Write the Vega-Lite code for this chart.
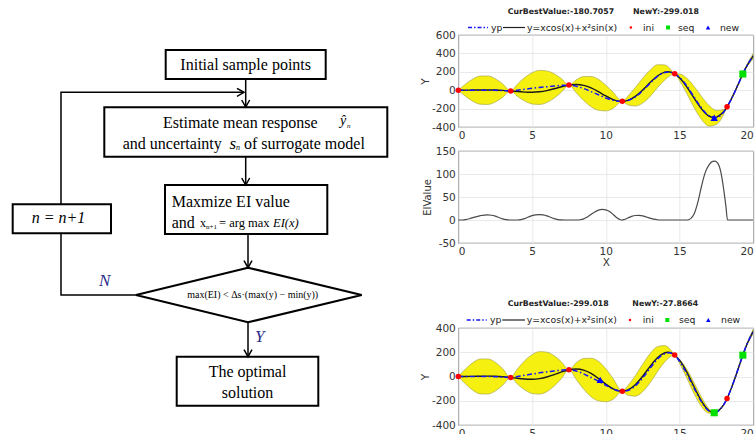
{
  "$schema": "https://vega.github.io/schema/vega-lite/v6.json",
  "padding": 0,
  "background": "white",
  "bounds": "flush",
  "spacing": 58.3,
  "config": {"view": {"stroke": null}, "font": "DejaVu Sans"},
  "datasets": {
    "truth": [
      {"x":0,"y":0},{"x":0.5,"y":0.56},{"x":1,"y":1.38},{"x":1.5,"y":2.35},{"x":2,"y":2.81},{"x":2.5,"y":1.74},{"x":3,"y":-1.7},{"x":3.5,"y":-7.58},{"x":4,"y":-14.72},{"x":4.5,"y":-20.74},{"x":5,"y":-22.55},{"x":5.5,"y":-17.4},{"x":6,"y":-4.3},{"x":6.5,"y":15.44},{"x":7,"y":37.47},{"x":7.5,"y":55.4},{"x":8,"y":62.2},{"x":8.5,"y":52.5},{"x":9,"y":25.2},{"x":9.5,"y":-16.3},{"x":10,"y":-62.8},{"x":10.5,"y":-102},{"x":11,"y":-121},{"x":11.5,"y":-110.1},{"x":12,"y":-67.1},{"x":12.5,"y":2.2},{"x":13,"y":82.9},{"x":13.5,"y":154.6},{"x":14,"y":196.1},{"x":14.5,"y":191.4},{"x":15,"y":134.9},{"x":15.5,"y":34.4},{"x":16,"y":-89},{"x":16.5,"y":-205.2},{"x":17,"y":-282.5},{"x":17.35,"y":-299},{"x":17.5,"y":-295},{"x":18,"y":-231.5},{"x":18.5,"y":-100},{"x":19,"y":72.7},{"x":19.5,"y":245.7},{"x":20,"y":373.3}
    ],
    "p1": [
      {"x":0,"yp":0,"lo":0,"hi":0},{"x":0.5,"yp":0.3,"lo":-67.7,"hi":68.3},{"x":1,"yp":0.5,"lo":-121.5,"hi":122.5},{"x":1.5,"yp":0.5,"lo":-152.5,"hi":153.5},{"x":2,"yp":0,"lo":-155,"hi":155},{"x":2.5,"yp":-1.5,"lo":-128.5,"hi":125.5},{"x":3,"yp":-4,"lo":-78,"hi":70},{"x":3.55,"yp":-8.3,"lo":-8.3,"hi":-8.3},
      {"x":4,"yp":0,"lo":-65,"hi":65},{"x":4.5,"yp":10,"lo":-117,"hi":137},{"x":5,"yp":20,"lo":-149,"hi":189},{"x":5.5,"yp":30,"lo":-155,"hi":215},{"x":6,"yp":38,"lo":-134,"hi":210},{"x":6.5,"yp":46,"lo":-86,"hi":178},{"x":7,"yp":52,"lo":-20,"hi":124},{"x":7.5,"yp":55.4,"lo":55.4,"hi":55.4},
      {"x":8,"yp":42,"lo":-29,"hi":113},{"x":8.5,"yp":18,"lo":-112,"hi":148},{"x":9,"yp":-15,"lo":-179,"hi":149},{"x":9.5,"yp":-50,"lo":-218,"hi":118},{"x":10,"yp":-85,"lo":-225,"hi":55},{"x":10.5,"yp":-110,"lo":-197,"hi":-23},{"x":11.12,"yp":-121.3,"lo":-121.3,"hi":-121.3},
      {"x":11.5,"yp":-112,"lo":-160,"hi":-64},{"x":12,"yp":-72,"lo":-172,"hi":28},{"x":12.5,"yp":-5,"lo":-140,"hi":130},{"x":13,"yp":75,"lo":-68,"hi":218},{"x":13.5,"yp":150,"lo":27,"hi":277},{"x":14,"yp":192,"lo":112,"hi":275},{"x":14.3,"yp":197,"lo":152,"hi":244},{"x":14.67,"yp":177.9,"lo":177.9,"hi":177.9},
      {"x":15,"yp":140,"lo":104,"hi":176},{"x":15.5,"yp":45,"lo":-39,"hi":129},{"x":16,"yp":-78,"lo":-194,"hi":38},{"x":16.5,"yp":-195,"lo":-320,"hi":-70},{"x":17,"yp":-278,"lo":-390,"hi":-166},{"x":17.5,"yp":-296,"lo":-372,"hi":-220},{"x":18,"yp":-236,"lo":-262,"hi":-210},{"x":18.22,"yp":-180.8,"lo":-180.8,"hi":-180.8},
      {"x":18.5,"yp":-100,"lo":-104,"hi":-96},{"x":19,"yp":72.7,"lo":67.7,"hi":77.7},{"x":19.29,"yp":176,"lo":176,"hi":176},{"x":19.5,"yp":245.7,"lo":237.7,"hi":253.7},{"x":20,"yp":372,"lo":342,"hi":402}
    ],
    "p3": [
      {"x":0,"yp":0,"lo":0,"hi":0},{"x":0.5,"yp":0.3,"lo":-62.7,"hi":63.3},{"x":1,"yp":0.5,"lo":-114.5,"hi":115.5},{"x":1.5,"yp":0.5,"lo":-143.5,"hi":144.5},{"x":2,"yp":0,"lo":-145,"hi":145},{"x":2.5,"yp":-1.5,"lo":-120.5,"hi":117.5},{"x":3,"yp":-4,"lo":-73,"hi":65},{"x":3.55,"yp":-8.3,"lo":-8.3,"hi":-8.3},
      {"x":4,"yp":0,"lo":-61,"hi":61},{"x":4.5,"yp":10,"lo":-110,"hi":130},{"x":5,"yp":20,"lo":-140,"hi":180},{"x":5.5,"yp":30,"lo":-145,"hi":205},{"x":6,"yp":38,"lo":-125,"hi":201},{"x":6.5,"yp":46,"lo":-79,"hi":171},{"x":7,"yp":52,"lo":-16,"hi":120},{"x":7.5,"yp":55.4,"lo":55.4,"hi":55.4},
      {"x":8,"yp":45,"lo":-24,"hi":114},{"x":8.5,"yp":22,"lo":-104,"hi":148},{"x":9,"yp":-8,"lo":-167,"hi":151},{"x":9.5,"yp":-38,"lo":-201,"hi":125},{"x":10,"yp":-72,"lo":-208,"hi":64},{"x":10.5,"yp":-103,"lo":-188,"hi":-18},{"x":11.12,"yp":-121.3,"lo":-121.3,"hi":-121.3},
      {"x":11.5,"yp":-115,"lo":-155,"hi":-75},{"x":12,"yp":-78,"lo":-162,"hi":6},{"x":12.5,"yp":-12,"lo":-125,"hi":101},{"x":13,"yp":68,"lo":-52,"hi":188},{"x":13.5,"yp":143,"lo":40,"hi":246},{"x":14,"yp":188,"lo":121,"hi":255},{"x":14.3,"yp":195,"lo":157,"hi":233},{"x":14.67,"yp":177.9,"lo":177.9,"hi":177.9},
      {"x":15,"yp":125,"lo":108,"hi":142},{"x":15.5,"yp":22,"lo":-15,"hi":59},{"x":16,"yp":-100,"lo":-145,"hi":-55},{"x":16.5,"yp":-212,"lo":-250,"hi":-174},{"x":17,"yp":-285,"lo":-303,"hi":-267},{"x":17.35,"yp":-299,"lo":-299,"hi":-299},
      {"x":17.5,"yp":-295,"lo":-297,"hi":-293},{"x":18,"yp":-231.5,"lo":-233.5,"hi":-229.5},{"x":18.22,"yp":-180.8,"lo":-180.8,"hi":-180.8},
      {"x":18.5,"yp":-100,"lo":-103,"hi":-97},{"x":19,"yp":72.7,"lo":69.7,"hi":75.7},{"x":19.29,"yp":176,"lo":176,"hi":176},{"x":19.5,"yp":245.7,"lo":240.7,"hi":250.7},{"x":20,"yp":372,"lo":352,"hi":392}
    ],
    "s1": [
      {"x":0,"y":0,"k":"ini"},{"x":3.55,"y":-8.3,"k":"ini"},{"x":7.5,"y":55.4,"k":"ini"},{"x":11.12,"y":-121.3,"k":"ini"},{"x":14.67,"y":177.9,"k":"ini"},{"x":18.22,"y":-180.8,"k":"ini"},
      {"x":19.29,"y":176,"k":"seq"},{"x":17.35,"y":-299,"k":"new"}
    ],
    "s3": [
      {"x":0,"y":0,"k":"ini"},{"x":3.55,"y":-8.3,"k":"ini"},{"x":7.5,"y":55.4,"k":"ini"},{"x":11.12,"y":-121.3,"k":"ini"},{"x":14.67,"y":177.9,"k":"ini"},{"x":18.22,"y":-180.8,"k":"ini"},
      {"x":19.29,"y":176,"k":"seq"},{"x":17.35,"y":-299,"k":"seq"},{"x":9.62,"y":-27.9,"k":"new"}
    ],
    "ei": [
      {"x":0,"ei":0},{"x":0.3,"ei":0},{"x":0.5,"ei":1},{"x":0.75,"ei":2.8},{"x":1,"ei":5},{"x":1.25,"ei":7.5},{"x":1.5,"ei":9.5},{"x":1.75,"ei":10.8},{"x":2,"ei":11},{"x":2.25,"ei":10.3},{"x":2.5,"ei":8.5},{"x":2.75,"ei":5.5},{"x":3,"ei":2.5},{"x":3.25,"ei":0.7},{"x":3.5,"ei":0},
      {"x":4,"ei":0},{"x":4.25,"ei":0.8},{"x":4.5,"ei":3},{"x":4.75,"ei":6.5},{"x":5,"ei":9.5},{"x":5.25,"ei":11.3},{"x":5.5,"ei":11.8},{"x":5.75,"ei":11},{"x":6,"ei":9},{"x":6.25,"ei":6},{"x":6.5,"ei":3},{"x":6.75,"ei":1},{"x":7,"ei":0.2},{"x":7.25,"ei":0},
      {"x":8.1,"ei":0},{"x":8.25,"ei":0.5},{"x":8.5,"ei":2.5},{"x":8.75,"ei":6.5},{"x":9,"ei":12},{"x":9.25,"ei":17.5},{"x":9.5,"ei":21.5},{"x":9.75,"ei":23},{"x":10,"ei":22},{"x":10.25,"ei":18.5},{"x":10.5,"ei":12},{"x":10.75,"ei":5},{"x":11,"ei":0.5},{"x":11.1,"ei":0},
      {"x":11.25,"ei":1},{"x":11.5,"ei":4.5},{"x":11.75,"ei":8},{"x":12,"ei":9.8},{"x":12.25,"ei":10},{"x":12.5,"ei":9},{"x":12.75,"ei":6.5},{"x":13,"ei":4},{"x":13.25,"ei":1.8},{"x":13.5,"ei":0.5},{"x":13.75,"ei":0},
      {"x":15.5,"ei":0},{"x":15.75,"ei":3},{"x":16,"ei":14},{"x":16.25,"ei":40},{"x":16.5,"ei":75},{"x":16.75,"ei":104},{"x":17,"ei":120},{"x":17.25,"ei":127.5},{"x":17.4,"ei":128},{"x":17.6,"ei":123},{"x":17.8,"ei":104},{"x":18,"ei":65},{"x":18.15,"ei":28},{"x":18.25,"ei":0},{"x":20,"ei":0}
    ],
    "rects": [
      {"x":165.7,"x2":325.7,"y":50,"y2":79},
      {"x":104.3,"x2":387.3,"y":107.3,"y2":156.7},
      {"x":165,"x2":327.3,"y":185,"y2":234},
      {"x":12.7,"x2":111,"y":204.3,"y2":233.3},
      {"x":176.7,"x2":318.3,"y":356.7,"y2":405.7}
    ],
    "lines": [
      {"id":"L1","o":1,"x":245.7,"y":79},{"id":"L1","o":2,"x":245.7,"y":107},
      {"id":"A1","o":1,"x":241.7,"y":100},{"id":"A1","o":2,"x":245.7,"y":107},{"id":"A1","o":3,"x":249.7,"y":100},
      {"id":"L2","o":1,"x":61,"y":204.3},{"id":"L2","o":2,"x":61,"y":92.3},{"id":"L2","o":3,"x":244,"y":92.3},
      {"id":"A2","o":1,"x":237,"y":88.3},{"id":"A2","o":2,"x":244,"y":92.3},{"id":"A2","o":3,"x":237,"y":96.3},
      {"id":"L3","o":1,"x":245.7,"y":156.7},{"id":"L3","o":2,"x":245.7,"y":185},
      {"id":"A3","o":1,"x":241.7,"y":178},{"id":"A3","o":2,"x":245.7,"y":185},{"id":"A3","o":3,"x":249.7,"y":178},
      {"id":"L4","o":1,"x":248,"y":234},{"id":"L4","o":2,"x":248,"y":267.7},
      {"id":"A4","o":1,"x":244,"y":260.7},{"id":"A4","o":2,"x":248,"y":267.7},{"id":"A4","o":3,"x":252,"y":260.7},
      {"id":"L5","o":1,"x":248,"y":322.3},{"id":"L5","o":2,"x":248,"y":356.7},
      {"id":"A5","o":1,"x":244,"y":349.7},{"id":"A5","o":2,"x":248,"y":356.7},{"id":"A5","o":3,"x":252,"y":349.7},
      {"id":"L6","o":1,"x":136,"y":295},{"id":"L6","o":2,"x":61,"y":295},{"id":"L6","o":3,"x":61,"y":233.3}
    ],
    "diam": [
      {"o":1,"x":248,"y":267.7},{"o":2,"x":361.7,"y":295},{"o":3,"x":248,"y":322.3},{"o":4,"x":136,"y":295},{"o":5,"x":248,"y":267.7}
    ]
  },
  "hconcat": [
    {
      "width": 400,
      "height": 434,
      "layer": [
        {
          "data": {"name": "rects"},
          "mark": {"type": "rect", "fill": "white", "stroke": "black", "strokeWidth": 2},
          "encoding": {
            "x": {"field": "x", "type": "quantitative", "scale": {"domain": [0, 400], "nice": false, "zero": false}, "axis": null},
            "x2": {"field": "x2"},
            "y": {"field": "y", "type": "quantitative", "scale": {"domain": [0, 434], "nice": false, "zero": false, "reverse": true}, "axis": null},
            "y2": {"field": "y2"}
          }
        },
        {
          "data": {"name": "lines"},
          "mark": {"type": "line", "stroke": "black", "strokeWidth": 1.5},
          "encoding": {
            "x": {"field": "x", "type": "quantitative"},
            "y": {"field": "y", "type": "quantitative"},
            "detail": {"field": "id"},
            "order": {"field": "o"}
          }
        },
        {
          "data": {"name": "diam"},
          "mark": {"type": "line", "stroke": "black", "strokeWidth": 2},
          "encoding": {
            "x": {"field": "x", "type": "quantitative"},
            "y": {"field": "y", "type": "quantitative"},
            "order": {"field": "o"}
          }
        },
        {
          "data": {"values": [
            {"t": "Initial sample points", "x": 245.7, "y": 65, "s": 16},
            {"t": "The optimal", "x": 247.5, "y": 372, "s": 16},
            {"t": "solution", "x": 247.5, "y": 393, "s": 16},
            {"t": "max(EI) < Δs·(max(y) − min(y))", "x": 252.7, "y": 294.5, "s": 10}
          ]},
          "mark": {"type": "text", "font": "Liberation Serif", "color": "black", "baseline": "middle", "align": "center"},
          "encoding": {
            "x": {"field": "x", "type": "quantitative"},
            "y": {"field": "y", "type": "quantitative"},
            "text": {"field": "t"},
            "size": {"field": "s", "type": "quantitative", "scale": null}
          }
        },
        {
          "data": {"values": [
            {"t": "Estimate mean response", "x": 163, "y": 123, "s": 16},
            {"t": "and uncertainty", "x": 122.7, "y": 143.5, "s": 16},
            {"t": "of surrogate model", "x": 244, "y": 143.5, "s": 16},
            {"t": "Maxmize EI value", "x": 171.7, "y": 202, "s": 16},
            {"t": "and", "x": 171.7, "y": 223, "s": 16},
            {"t": "x", "x": 200, "y": 223, "s": 12},
            {"t": "n+1", "x": 206, "y": 226.5, "s": 7},
            {"t": "= arg max", "x": 219, "y": 223, "s": 12.5}
          ]},
          "mark": {"type": "text", "font": "Liberation Serif", "color": "black", "baseline": "middle", "align": "left"},
          "encoding": {
            "x": {"field": "x", "type": "quantitative"},
            "y": {"field": "y", "type": "quantitative"},
            "text": {"field": "t"},
            "size": {"field": "s", "type": "quantitative", "scale": null}
          }
        },
        {
          "data": {"values": [
            {"t": "EI(x)", "x": 273, "y": 223, "s": 12.5},
            {"t": "ŷ", "x": 340, "y": 121, "s": 14},
            {"t": "n", "x": 347, "y": 126, "s": 7},
            {"t": "s", "x": 229.5, "y": 143.5, "s": 17},
            {"t": "n", "x": 236, "y": 148, "s": 8},
            {"t": "n = n+1", "x": 31.7, "y": 218, "s": 16}
          ]},
          "mark": {"type": "text", "font": "Liberation Serif", "fontStyle": "italic", "color": "black", "baseline": "middle", "align": "left"},
          "encoding": {
            "x": {"field": "x", "type": "quantitative"},
            "y": {"field": "y", "type": "quantitative"},
            "text": {"field": "t"},
            "size": {"field": "s", "type": "quantitative", "scale": null}
          }
        },
        {
          "data": {"values": [
            {"t": "N", "x": 99, "y": 281, "s": 17},
            {"t": "Y", "x": 255, "y": 337, "s": 17}
          ]},
          "mark": {"type": "text", "font": "Liberation Serif", "fontStyle": "italic", "color": "#2b2f8a", "baseline": "middle", "align": "left"},
          "encoding": {
            "x": {"field": "x", "type": "quantitative"},
            "y": {"field": "y", "type": "quantitative"},
            "text": {"field": "t"},
            "size": {"field": "s", "type": "quantitative", "scale": null}
          }
        }
      ]
    },
    {
      "spacing": 0,
      "bounds": "flush",
      "vconcat": [
        {
          "width": 295,
          "height": 35,
          "layer": [
            {
              "data": {"values": [{"x": 3.35, "y": 12, "t": "CurBestValue:-180.7057"}, {"x": 11.85, "y": 12, "t": "NewY:-299.018"}]},
              "mark": {"type": "text", "align": "left", "baseline": "middle", "font": "DejaVu Sans", "fontWeight": "bold", "fontSize": 7.8, "color": "#222"},
              "encoding": {
                "x": {"field": "x", "type": "quantitative", "scale": {"domain": [0, 20], "nice": false}, "axis": null},
                "y": {"field": "y", "type": "quantitative", "scale": {"domain": [0, 35], "nice": false, "reverse": true}, "axis": null},
                "text": {"field": "t"}
              }
            },
            {
              "data": {"values": [{"x": 2.21, "y": 27.5, "t": "yp"}, {"x": 4.66, "y": 27.5, "t": "y=xcos(x)+x²sin(x)"}, {"x": 12.52, "y": 27.5, "t": "ini"}, {"x": 14.89, "y": 27.5, "t": "seq"}, {"x": 17.74, "y": 27.5, "t": "new"}]},
              "mark": {"type": "text", "align": "left", "baseline": "middle", "font": "DejaVu Sans", "fontSize": 9.3, "color": "#222"},
              "encoding": {
                "x": {"field": "x", "type": "quantitative", "axis": null},
                "y": {"field": "y", "type": "quantitative", "axis": null},
                "text": {"field": "t"}
              }
            },
            {
              "data": {"values": [{"x": 0.66, "x2": 2.01, "y": 27.5}]},
              "mark": {"type": "rule", "stroke": "#1515ff", "strokeWidth": 1.5, "strokeDash": [4, 2, 1.5, 2]},
              "encoding": {"x": {"field": "x", "type": "quantitative", "axis": null}, "x2": {"field": "x2"}, "y": {"field": "y", "type": "quantitative", "axis": null}}
            },
            {
              "data": {"values": [{"x": 3.03, "x2": 4.52, "y": 27.5}]},
              "mark": {"type": "rule", "stroke": "#222", "strokeWidth": 1.2},
              "encoding": {"x": {"field": "x", "type": "quantitative", "axis": null}, "x2": {"field": "x2"}, "y": {"field": "y", "type": "quantitative", "axis": null}}
            },
            {
              "data": {"values": [{"x": 11.7, "y": 27.5}]},
              "mark": {"type": "point", "shape": "circle", "filled": true, "opacity": 1, "color": "#ff0000", "size": 6},
              "encoding": {"x": {"field": "x", "type": "quantitative", "axis": null}, "y": {"field": "y", "type": "quantitative", "axis": null}}
            },
            {
              "data": {"values": [{"x": 14.22, "y": 27.5}]},
              "mark": {"type": "point", "shape": "square", "filled": true, "opacity": 1, "color": "#00e000", "size": 16},
              "encoding": {"x": {"field": "x", "type": "quantitative", "axis": null}, "y": {"field": "y", "type": "quantitative", "axis": null}}
            },
            {
              "data": {"values": [{"x": 16.93, "y": 27.5}]},
              "mark": {"type": "point", "shape": "triangle-up", "filled": true, "opacity": 1, "color": "#0000ff", "size": 20},
              "encoding": {"x": {"field": "x", "type": "quantitative", "axis": null}, "y": {"field": "y", "type": "quantitative", "axis": null}}
            }
          ]
        },
        {
          "width": 295,
          "height": 92,
          "view": {"stroke": "#3a3a3a", "strokeWidth": 0.8},
          "layer": [
            {
              "data": {"name": "p1"},
              "mark": {"type": "area", "interpolate": "monotone", "fill": "#f6f010", "stroke": "#9c9c4a", "strokeWidth": 0.6, "clip": true},
              "encoding": {
                "x": {"field": "x", "type": "quantitative", "scale": {"domain": [0, 20], "nice": false}, "axis": {"values": [0, 5, 10, 15, 20], "grid": true, "gridColor": "#e3e3e3", "gridWidth": 0.8, "domain": false, "ticks": false, "labelOverlap": false, "labelFont": "DejaVu Sans", "labelFontSize": 10.5, "labelColor": "#333", "labelPadding": 3, "title": null}},
                "y": {"field": "lo", "type": "quantitative", "scale": {"domain": [-400, 600], "nice": false}, "axis": {"values": [-400, -200, 0, 200, 400, 600], "labelExpr": "replace(datum.label, '−', '-')", "grid": true, "gridColor": "#e3e3e3", "gridWidth": 0.8, "domain": false, "ticks": false, "labelOverlap": false, "labelFont": "DejaVu Sans", "labelFontSize": 10.5, "labelColor": "#333", "labelPadding": 3, "title": "Y", "titleFont": "DejaVu Sans", "titleFontSize": 10.5, "titleFontWeight": "normal", "titleColor": "#333", "titlePadding": 1}},
                "y2": {"field": "hi"}
              }
            },
            {
              "data": {"name": "truth"},
              "mark": {"type": "line", "interpolate": "natural", "stroke": "#1a1a1a", "strokeWidth": 1.4, "clip": true},
              "encoding": {
                "x": {"field": "x", "type": "quantitative", "axis": {"values": [0, 5, 10, 15, 20], "grid": true, "gridColor": "#e3e3e3", "gridWidth": 0.8, "domain": false, "ticks": false, "labelOverlap": false, "labelFont": "DejaVu Sans", "labelFontSize": 10.5, "labelColor": "#333", "labelPadding": 3, "title": null}},
                "y": {"field": "y", "type": "quantitative", "axis": {"values": [-400, -200, 0, 200, 400, 600], "labelExpr": "replace(datum.label, '−', '-')", "grid": true, "gridColor": "#e3e3e3", "gridWidth": 0.8, "domain": false, "ticks": false, "labelOverlap": false, "labelFont": "DejaVu Sans", "labelFontSize": 10.5, "labelColor": "#333", "labelPadding": 3, "title": "Y", "titleFont": "DejaVu Sans", "titleFontSize": 10.5, "titleFontWeight": "normal", "titleColor": "#333", "titlePadding": 1}}
              }
            },
            {
              "data": {"name": "p1"},
              "mark": {"type": "line", "interpolate": "monotone", "stroke": "#1515ff", "strokeWidth": 1.5, "strokeDash": [5, 2.5, 1.5, 2.5], "clip": true},
              "encoding": {
                "x": {"field": "x", "type": "quantitative", "axis": {"values": [0, 5, 10, 15, 20], "grid": true, "gridColor": "#e3e3e3", "gridWidth": 0.8, "domain": false, "ticks": false, "labelOverlap": false, "labelFont": "DejaVu Sans", "labelFontSize": 10.5, "labelColor": "#333", "labelPadding": 3, "title": null}},
                "y": {"field": "yp", "type": "quantitative", "axis": {"values": [-400, -200, 0, 200, 400, 600], "labelExpr": "replace(datum.label, '−', '-')", "grid": true, "gridColor": "#e3e3e3", "gridWidth": 0.8, "domain": false, "ticks": false, "labelOverlap": false, "labelFont": "DejaVu Sans", "labelFontSize": 10.5, "labelColor": "#333", "labelPadding": 3, "title": "Y", "titleFont": "DejaVu Sans", "titleFontSize": 10.5, "titleFontWeight": "normal", "titleColor": "#333", "titlePadding": 1}}
              }
            },
            {
              "data": {"name": "s1"},
              "transform": [{"filter": "datum.k == 'ini'"}],
              "mark": {"type": "point", "shape": "circle", "filled": true, "opacity": 1, "color": "#ff0000", "size": 30},
              "encoding": {
                "x": {"field": "x", "type": "quantitative", "axis": {"values": [0, 5, 10, 15, 20], "grid": true, "gridColor": "#e3e3e3", "gridWidth": 0.8, "domain": false, "ticks": false, "labelOverlap": false, "labelFont": "DejaVu Sans", "labelFontSize": 10.5, "labelColor": "#333", "labelPadding": 3, "title": null}},
                "y": {"field": "y", "type": "quantitative", "axis": {"values": [-400, -200, 0, 200, 400, 600], "labelExpr": "replace(datum.label, '−', '-')", "grid": true, "gridColor": "#e3e3e3", "gridWidth": 0.8, "domain": false, "ticks": false, "labelOverlap": false, "labelFont": "DejaVu Sans", "labelFontSize": 10.5, "labelColor": "#333", "labelPadding": 3, "title": "Y", "titleFont": "DejaVu Sans", "titleFontSize": 10.5, "titleFontWeight": "normal", "titleColor": "#333", "titlePadding": 1}}
              }
            },
            {
              "data": {"name": "s1"},
              "transform": [{"filter": "datum.k == 'seq'"}],
              "mark": {"type": "point", "shape": "square", "filled": true, "opacity": 1, "color": "#00e000", "size": 50},
              "encoding": {
                "x": {"field": "x", "type": "quantitative", "axis": {"values": [0, 5, 10, 15, 20], "grid": true, "gridColor": "#e3e3e3", "gridWidth": 0.8, "domain": false, "ticks": false, "labelOverlap": false, "labelFont": "DejaVu Sans", "labelFontSize": 10.5, "labelColor": "#333", "labelPadding": 3, "title": null}},
                "y": {"field": "y", "type": "quantitative", "axis": {"values": [-400, -200, 0, 200, 400, 600], "labelExpr": "replace(datum.label, '−', '-')", "grid": true, "gridColor": "#e3e3e3", "gridWidth": 0.8, "domain": false, "ticks": false, "labelOverlap": false, "labelFont": "DejaVu Sans", "labelFontSize": 10.5, "labelColor": "#333", "labelPadding": 3, "title": "Y", "titleFont": "DejaVu Sans", "titleFontSize": 10.5, "titleFontWeight": "normal", "titleColor": "#333", "titlePadding": 1}}
              }
            },
            {
              "data": {"name": "s1"},
              "transform": [{"filter": "datum.k == 'new'"}],
              "mark": {"type": "point", "shape": "triangle-up", "filled": true, "opacity": 1, "color": "#0000ff", "size": 55},
              "encoding": {
                "x": {"field": "x", "type": "quantitative", "axis": {"values": [0, 5, 10, 15, 20], "grid": true, "gridColor": "#e3e3e3", "gridWidth": 0.8, "domain": false, "ticks": false, "labelOverlap": false, "labelFont": "DejaVu Sans", "labelFontSize": 10.5, "labelColor": "#333", "labelPadding": 3, "title": null}},
                "y": {"field": "y", "type": "quantitative", "axis": {"values": [-400, -200, 0, 200, 400, 600], "labelExpr": "replace(datum.label, '−', '-')", "grid": true, "gridColor": "#e3e3e3", "gridWidth": 0.8, "domain": false, "ticks": false, "labelOverlap": false, "labelFont": "DejaVu Sans", "labelFontSize": 10.5, "labelColor": "#333", "labelPadding": 3, "title": "Y", "titleFont": "DejaVu Sans", "titleFontSize": 10.5, "titleFontWeight": "normal", "titleColor": "#333", "titlePadding": 1}}
              }
            }
          ]
        },
        {
          "width": 295,
          "height": 24,
          "data": {"values": [{"a": 1}]},
          "mark": {"type": "text", "text": ""},
          "encoding": {}
        },
        {
          "width": 295,
          "height": 92,
          "view": {"stroke": "#3a3a3a", "strokeWidth": 0.8},
          "data": {"name": "ei"},
          "mark": {"type": "line", "interpolate": "monotone", "stroke": "#4a4a4a", "strokeWidth": 1.2},
          "encoding": {
            "x": {"field": "x", "type": "quantitative", "scale": {"domain": [0, 20], "nice": false}, "axis": {"values": [0, 5, 10, 15, 20], "grid": true, "gridColor": "#e3e3e3", "gridWidth": 0.8, "domain": false, "ticks": false, "labelOverlap": false, "labelFont": "DejaVu Sans", "labelFontSize": 10.5, "labelColor": "#333", "labelPadding": 3, "title": "X", "titleFont": "DejaVu Sans", "titleFontSize": 10.5, "titleFontWeight": "normal", "titleColor": "#333", "titlePadding": 1}},
            "y": {"field": "ei", "type": "quantitative", "scale": {"domain": [-50, 150], "nice": false}, "axis": {"values": [-50, 0, 50, 100, 150], "labelExpr": "replace(datum.label, '−', '-')", "grid": true, "gridColor": "#e3e3e3", "gridWidth": 0.8, "domain": false, "ticks": false, "labelOverlap": false, "labelFont": "DejaVu Sans", "labelFontSize": 10.5, "labelColor": "#333", "labelPadding": 3, "title": "EIValue", "titleFont": "DejaVu Sans", "titleFontSize": 10, "titleFontWeight": "normal", "titleColor": "#333", "titlePadding": 3}}
          }
        },
        {
          "width": 295,
          "height": 85,
          "layer": [
            {
              "data": {"values": [{"x": 3.35, "y": 61.3, "t": "CurBestValue:-299.018"}, {"x": 11.8, "y": 61.3, "t": "NewY:-27.8664"}]},
              "mark": {"type": "text", "align": "left", "baseline": "middle", "font": "DejaVu Sans", "fontWeight": "bold", "fontSize": 7.8, "color": "#222"},
              "encoding": {
                "x": {"field": "x", "type": "quantitative", "scale": {"domain": [0, 20], "nice": false}, "axis": null},
                "y": {"field": "y", "type": "quantitative", "scale": {"domain": [0, 85], "nice": false, "reverse": true}, "axis": null},
                "text": {"field": "t"}
              }
            },
            {
              "data": {"values": [{"x": 2.15, "y": 77, "t": "yp"}, {"x": 4.64, "y": 77, "t": "y=xcos(x)+x²sin(x)"}, {"x": 12.5, "y": 77, "t": "ini"}, {"x": 14.96, "y": 77, "t": "seq"}, {"x": 17.81, "y": 77, "t": "new"}]},
              "mark": {"type": "text", "align": "left", "baseline": "middle", "font": "DejaVu Sans", "fontSize": 9.3, "color": "#222"},
              "encoding": {
                "x": {"field": "x", "type": "quantitative", "axis": null},
                "y": {"field": "y", "type": "quantitative", "axis": null},
                "text": {"field": "t"}
              }
            },
            {
              "data": {"values": [{"x": 0.57, "x2": 1.93, "y": 77}]},
              "mark": {"type": "rule", "stroke": "#1515ff", "strokeWidth": 1.5, "strokeDash": [4, 2, 1.5, 2]},
              "encoding": {"x": {"field": "x", "type": "quantitative", "axis": null}, "x2": {"field": "x2"}, "y": {"field": "y", "type": "quantitative", "axis": null}}
            },
            {
              "data": {"values": [{"x": 2.98, "x2": 4.52, "y": 77}]},
              "mark": {"type": "rule", "stroke": "#222", "strokeWidth": 1.2},
              "encoding": {"x": {"field": "x", "type": "quantitative", "axis": null}, "x2": {"field": "x2"}, "y": {"field": "y", "type": "quantitative", "axis": null}}
            },
            {
              "data": {"values": [{"x": 11.64, "y": 77}]},
              "mark": {"type": "point", "shape": "circle", "filled": true, "opacity": 1, "color": "#ff0000", "size": 6},
              "encoding": {"x": {"field": "x", "type": "quantitative", "axis": null}, "y": {"field": "y", "type": "quantitative", "axis": null}}
            },
            {
              "data": {"values": [{"x": 14.17, "y": 77}]},
              "mark": {"type": "point", "shape": "square", "filled": true, "opacity": 1, "color": "#00e000", "size": 16},
              "encoding": {"x": {"field": "x", "type": "quantitative", "axis": null}, "y": {"field": "y", "type": "quantitative", "axis": null}}
            },
            {
              "data": {"values": [{"x": 16.95, "y": 77}]},
              "mark": {"type": "point", "shape": "triangle-up", "filled": true, "opacity": 1, "color": "#0000ff", "size": 20},
              "encoding": {"x": {"field": "x", "type": "quantitative", "axis": null}, "y": {"field": "y", "type": "quantitative", "axis": null}}
            }
          ]
        },
        {
          "width": 295,
          "height": 97,
          "view": {"stroke": "#3a3a3a", "strokeWidth": 0.8},
          "layer": [
            {
              "data": {"name": "p3"},
              "mark": {"type": "area", "interpolate": "monotone", "fill": "#f6f010", "stroke": "#9c9c4a", "strokeWidth": 0.6, "clip": true},
              "encoding": {
                "x": {"field": "x", "type": "quantitative", "scale": {"domain": [0, 20], "nice": false}, "axis": {"values": [0, 5, 10, 15, 20], "grid": true, "gridColor": "#e3e3e3", "gridWidth": 0.8, "domain": false, "ticks": false, "labelOverlap": false, "labelFont": "DejaVu Sans", "labelFontSize": 10.5, "labelColor": "#333", "labelPadding": 3, "title": null}},
                "y": {"field": "lo", "type": "quantitative", "scale": {"domain": [-400, 400], "nice": false}, "axis": {"values": [-400, -200, 0, 200, 400], "labelExpr": "replace(datum.label, '−', '-')", "grid": true, "gridColor": "#e3e3e3", "gridWidth": 0.8, "domain": false, "ticks": false, "labelOverlap": false, "labelFont": "DejaVu Sans", "labelFontSize": 10.5, "labelColor": "#333", "labelPadding": 3, "title": "Y", "titleFont": "DejaVu Sans", "titleFontSize": 10.5, "titleFontWeight": "normal", "titleColor": "#333", "titlePadding": 1}},
                "y2": {"field": "hi"}
              }
            },
            {
              "data": {"name": "truth"},
              "mark": {"type": "line", "interpolate": "natural", "stroke": "#1a1a1a", "strokeWidth": 1.4, "clip": true},
              "encoding": {
                "x": {"field": "x", "type": "quantitative", "axis": {"values": [0, 5, 10, 15, 20], "grid": true, "gridColor": "#e3e3e3", "gridWidth": 0.8, "domain": false, "ticks": false, "labelOverlap": false, "labelFont": "DejaVu Sans", "labelFontSize": 10.5, "labelColor": "#333", "labelPadding": 3, "title": null}},
                "y": {"field": "y", "type": "quantitative", "axis": {"values": [-400, -200, 0, 200, 400], "labelExpr": "replace(datum.label, '−', '-')", "grid": true, "gridColor": "#e3e3e3", "gridWidth": 0.8, "domain": false, "ticks": false, "labelOverlap": false, "labelFont": "DejaVu Sans", "labelFontSize": 10.5, "labelColor": "#333", "labelPadding": 3, "title": "Y", "titleFont": "DejaVu Sans", "titleFontSize": 10.5, "titleFontWeight": "normal", "titleColor": "#333", "titlePadding": 1}}
              }
            },
            {
              "data": {"name": "p3"},
              "mark": {"type": "line", "interpolate": "monotone", "stroke": "#1515ff", "strokeWidth": 1.5, "strokeDash": [5, 2.5, 1.5, 2.5], "clip": true},
              "encoding": {
                "x": {"field": "x", "type": "quantitative", "axis": {"values": [0, 5, 10, 15, 20], "grid": true, "gridColor": "#e3e3e3", "gridWidth": 0.8, "domain": false, "ticks": false, "labelOverlap": false, "labelFont": "DejaVu Sans", "labelFontSize": 10.5, "labelColor": "#333", "labelPadding": 3, "title": null}},
                "y": {"field": "yp", "type": "quantitative", "axis": {"values": [-400, -200, 0, 200, 400], "labelExpr": "replace(datum.label, '−', '-')", "grid": true, "gridColor": "#e3e3e3", "gridWidth": 0.8, "domain": false, "ticks": false, "labelOverlap": false, "labelFont": "DejaVu Sans", "labelFontSize": 10.5, "labelColor": "#333", "labelPadding": 3, "title": "Y", "titleFont": "DejaVu Sans", "titleFontSize": 10.5, "titleFontWeight": "normal", "titleColor": "#333", "titlePadding": 1}}
              }
            },
            {
              "data": {"name": "s3"},
              "transform": [{"filter": "datum.k == 'ini'"}],
              "mark": {"type": "point", "shape": "circle", "filled": true, "opacity": 1, "color": "#ff0000", "size": 30},
              "encoding": {
                "x": {"field": "x", "type": "quantitative", "axis": {"values": [0, 5, 10, 15, 20], "grid": true, "gridColor": "#e3e3e3", "gridWidth": 0.8, "domain": false, "ticks": false, "labelOverlap": false, "labelFont": "DejaVu Sans", "labelFontSize": 10.5, "labelColor": "#333", "labelPadding": 3, "title": null}},
                "y": {"field": "y", "type": "quantitative", "axis": {"values": [-400, -200, 0, 200, 400], "labelExpr": "replace(datum.label, '−', '-')", "grid": true, "gridColor": "#e3e3e3", "gridWidth": 0.8, "domain": false, "ticks": false, "labelOverlap": false, "labelFont": "DejaVu Sans", "labelFontSize": 10.5, "labelColor": "#333", "labelPadding": 3, "title": "Y", "titleFont": "DejaVu Sans", "titleFontSize": 10.5, "titleFontWeight": "normal", "titleColor": "#333", "titlePadding": 1}}
              }
            },
            {
              "data": {"name": "s3"},
              "transform": [{"filter": "datum.k == 'seq'"}],
              "mark": {"type": "point", "shape": "square", "filled": true, "opacity": 1, "color": "#00e000", "size": 50},
              "encoding": {
                "x": {"field": "x", "type": "quantitative", "axis": {"values": [0, 5, 10, 15, 20], "grid": true, "gridColor": "#e3e3e3", "gridWidth": 0.8, "domain": false, "ticks": false, "labelOverlap": false, "labelFont": "DejaVu Sans", "labelFontSize": 10.5, "labelColor": "#333", "labelPadding": 3, "title": null}},
                "y": {"field": "y", "type": "quantitative", "axis": {"values": [-400, -200, 0, 200, 400], "labelExpr": "replace(datum.label, '−', '-')", "grid": true, "gridColor": "#e3e3e3", "gridWidth": 0.8, "domain": false, "ticks": false, "labelOverlap": false, "labelFont": "DejaVu Sans", "labelFontSize": 10.5, "labelColor": "#333", "labelPadding": 3, "title": "Y", "titleFont": "DejaVu Sans", "titleFontSize": 10.5, "titleFontWeight": "normal", "titleColor": "#333", "titlePadding": 1}}
              }
            },
            {
              "data": {"name": "s3"},
              "transform": [{"filter": "datum.k == 'new'"}],
              "mark": {"type": "point", "shape": "triangle-up", "filled": true, "opacity": 1, "color": "#0000ff", "size": 55},
              "encoding": {
                "x": {"field": "x", "type": "quantitative", "axis": {"values": [0, 5, 10, 15, 20], "grid": true, "gridColor": "#e3e3e3", "gridWidth": 0.8, "domain": false, "ticks": false, "labelOverlap": false, "labelFont": "DejaVu Sans", "labelFontSize": 10.5, "labelColor": "#333", "labelPadding": 3, "title": null}},
                "y": {"field": "y", "type": "quantitative", "axis": {"values": [-400, -200, 0, 200, 400], "labelExpr": "replace(datum.label, '−', '-')", "grid": true, "gridColor": "#e3e3e3", "gridWidth": 0.8, "domain": false, "ticks": false, "labelOverlap": false, "labelFont": "DejaVu Sans", "labelFontSize": 10.5, "labelColor": "#333", "labelPadding": 3, "title": "Y", "titleFont": "DejaVu Sans", "titleFontSize": 10.5, "titleFontWeight": "normal", "titleColor": "#333", "titlePadding": 1}}
              }
            }
          ]
        }
      ]
    }
  ]
}
